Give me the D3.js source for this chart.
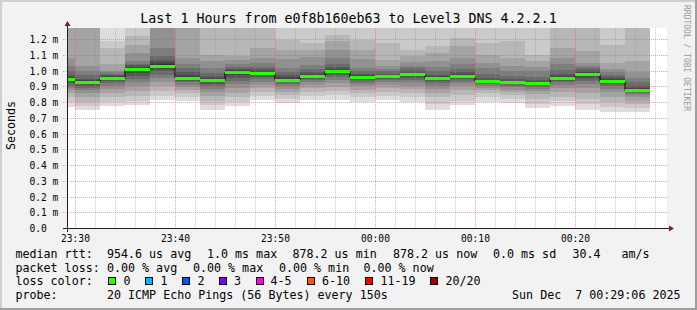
<!DOCTYPE html>
<html><head><meta charset="utf-8">
<script src="https://cdn.jsdelivr.net/npm/d3@7/dist/d3.min.js"></script>
<style>
html,body{margin:0;padding:0;background:#f2f2f2;}
svg{display:block;}
text{font-family:"DejaVu Sans Mono",monospace;}
</style></head><body>
<svg id="chart" width="697" height="310"></svg>
<script>
const INF = Infinity;
const title = "Last 1 Hours from e0f8b160eb63 to Level3 DNS 4.2.2.1";
const yLabel = "Seconds";
const watermark = "RRDTOOL / TOBI OETIKER";
const viewStart = new Date(2025, 11, 6, 23, 29, 12);
const viewEnd = new Date(2025, 11, 7, 0, 29, 12);
const firstBarEnd = new Date(2025, 11, 6, 23, 30, 0);
const stepSeconds = 150;
const yMaxMs = 1.2712;
const yTickValues = [0, 0.1, 0.2, 0.3, 0.4, 0.5, 0.6, 0.7, 0.8, 0.9, 1.0, 1.1, 1.2];

// median rtt per 150 s step (ms)
const medians = [0.949, 0.926, 0.955, 1.008, 1.032, 0.955, 0.938, 0.989, 0.983, 0.943, 0.968, 0.996,
                 0.957, 0.964, 0.976, 0.951, 0.968, 0.932, 0.926, 0.919, 0.955, 0.976, 0.932, 0.878];

// 20 sorted ping rtts per step (ms); INF = above graph maximum
const pings = [
 [0.770,0.800,0.830,0.855,0.875,0.890,0.905,0.920,0.935,0.945, 0.953,0.962,0.975,0.995,1.030,1.080,INF,INF,INF,INF],
 [0.752,0.775,0.800,0.830,0.855,0.875,0.890,0.905,0.915,0.922, 0.930,0.938,0.950,0.970,0.995,1.027,INF,INF,INF,INF],
 [0.773,0.800,0.830,0.860,0.885,0.905,0.920,0.935,0.945,0.952, 0.962,0.968,0.975,0.982,0.990,0.996,1.043,1.144,1.186,INF],
 [0.784,0.810,0.840,0.870,0.900,0.925,0.945,0.965,0.985,1.000, 1.015,1.025,1.035,1.045,1.059,1.112,1.165,1.218,INF,INF],
 [0.816,0.840,0.870,0.900,0.930,0.955,0.975,0.995,1.010,1.025, 1.040,1.052,1.068,1.091,1.144,INF,INF,INF,INF,INF],
 [0.805,0.830,0.855,0.875,0.895,0.910,0.925,0.935,0.945,0.950, 0.960,0.972,0.990,1.015,1.045,1.081,INF,INF,INF,INF],
 [0.752,0.780,0.810,0.840,0.865,0.885,0.900,0.915,0.925,0.933, 0.943,0.953,0.967,0.985,1.015,1.060,1.102,INF,INF,INF],
 [0.773,0.800,0.830,0.860,0.890,0.915,0.935,0.955,0.970,0.984, 0.994,1.002,1.012,1.025,1.045,1.065,1.091,INF,INF,INF],
 [0.816,0.840,0.865,0.890,0.910,0.930,0.945,0.960,0.970,0.978, 0.988,0.996,1.008,1.025,1.050,1.081,1.144,INF,INF,INF],
 [0.795,0.820,0.845,0.865,0.885,0.900,0.915,0.925,0.935,0.941, 0.949,0.958,0.972,0.992,1.020,1.075,1.134,1.197,INF,INF],
 [0.816,0.840,0.865,0.890,0.910,0.925,0.940,0.950,0.958,0.964, 0.972,0.980,0.992,1.008,1.038,1.085,1.134,1.176,INF,INF],
 [0.816,0.845,0.870,0.895,0.920,0.940,0.960,0.975,0.985,0.992, 1.000,1.010,1.025,1.045,1.081,1.130,1.186,1.229,INF,INF],
 [0.801,0.830,0.855,0.880,0.900,0.915,0.930,0.940,0.948,0.953, 0.961,0.970,0.982,0.998,1.020,1.075,1.134,1.197,INF,INF],
 [0.816,0.840,0.865,0.890,0.910,0.925,0.940,0.950,0.955,0.959, 0.966,0.973,0.982,0.996,1.012,1.030,1.070,1.176,INF,INF],
 [0.801,0.830,0.860,0.885,0.905,0.925,0.940,0.955,0.965,0.971, 0.980,0.988,1.000,1.015,1.030,1.055,1.091,1.134,INF,INF],
 [0.752,0.790,0.830,0.860,0.885,0.905,0.920,0.932,0.942,0.947, 0.955,0.963,0.975,0.995,1.025,1.059,1.112,1.155,INF,INF],
 [0.780,0.810,0.845,0.875,0.900,0.920,0.935,0.950,0.958,0.964, 0.972,0.980,0.993,1.012,1.045,1.081,1.155,1.208,INF,INF],
 [0.801,0.830,0.855,0.875,0.890,0.905,0.915,0.922,0.927,0.929, 0.935,0.943,0.956,0.978,1.017,1.050,1.102,1.176,INF,INF],
 [0.795,0.820,0.845,0.865,0.880,0.895,0.905,0.913,0.918,0.921, 0.927,0.935,0.948,0.968,0.996,1.030,1.081,1.186,INF,INF],
 [0.763,0.790,0.820,0.850,0.870,0.885,0.897,0.906,0.912,0.916, 0.922,0.930,0.943,0.962,0.996,1.025,1.059,1.102,INF,INF],
 [0.773,0.805,0.835,0.865,0.890,0.910,0.925,0.937,0.946,0.951, 0.959,0.968,0.982,1.005,1.040,1.081,1.144,INF,INF,INF],
 [0.752,0.785,0.820,0.860,0.890,0.915,0.935,0.950,0.962,0.971, 0.981,0.990,1.002,1.015,1.030,1.049,1.123,INF,INF,INF],
 [0.737,0.770,0.800,0.835,0.865,0.885,0.900,0.913,0.922,0.928, 0.936,0.945,0.958,0.975,0.990,1.010,1.049,1.165,INF,INF],
 [0.737,0.765,0.790,0.810,0.830,0.845,0.858,0.868,0.874,0.876, 0.882,0.892,0.905,0.925,0.953,0.990,1.059,INF,INF,INF]
];

const lossLabels = ["0", "1", "2", "3", "4-5", "6-10", "11-19", "20/20"];
const lossColors = ["#26ff00", "#00b8ff", "#0059ff", "#7e00ff", "#ff00ea", "#ff5500", "#ff0000", "#a10000"];
const legendRtt = ["median rtt:", "954.6 us avg", "1.0 ms max", "878.2 us min", "878.2 us now", "0.0 ms sd", "30.4", "am/s"];
const legendLoss = ["packet loss:", "0.00 % avg", "0.00 % max", "0.00 % min", "0.00 % now"];
const legendProbe = ["probe:", "20 ICMP Echo Pings (56 Bytes) every 150s"];
const stamp = "Sun Dec  7 00:29:06 2025";

// ---------- layout ----------
const W = 697, H = 310, L = 67, R = 667, T = 28, B = 228;
const svg = d3.select("#chart");
svg.append("rect").attr("width", W).attr("height", H).attr("fill", "#f2f2f2");
// shaded border
svg.append("rect").attr("x", 0).attr("y", 0).attr("width", W).attr("height", 2).attr("fill", "#cfcfcf");
svg.append("rect").attr("x", 0).attr("y", 0).attr("width", 2).attr("height", H).attr("fill", "#cfcfcf");
svg.append("rect").attr("x", 0).attr("y", H - 2).attr("width", W).attr("height", 2).attr("fill", "#9e9e9e");
svg.append("rect").attr("x", W - 2).attr("y", 0).attr("width", 2).attr("height", H).attr("fill", "#9e9e9e");

const x = d3.scaleTime().domain([viewStart, viewEnd]).range([L, R]);
const y = d3.scaleLinear().domain([0, yMaxMs]).range([B, T]);

svg.append("rect").attr("x", L).attr("y", T).attr("width", R - L).attr("height", B - T).attr("fill", "#ffffff");

svg.append("defs").append("clipPath").attr("id", "plotclip")
  .append("rect").attr("x", L).attr("y", T).attr("width", R - L).attr("height", B - T);
const g = svg.append("g").attr("clip-path", "url(#plotclip)");

const shade = b => { const v = Math.floor(190 / 10 * (10 - b)) + 50; return d3.rgb(v, v, v).formatHex(); };
const barStart = i => d3.timeSecond.offset(firstBarEnd, (i - 1) * stepSeconds);
const barEnd = i => d3.timeSecond.offset(firstBarEnd, i * stepSeconds);

pings.forEach((p, i) => {
  const x0 = x(barStart(i)), x1 = x(barEnd(i));
  for (let b = 1; b <= 10; b++) {
    const lo = p[b - 1], hi = p[20 - b];
    const yTop = y(Math.min(hi, yMaxMs)), yBot = y(lo);
    g.append("rect").attr("x", x0).attr("width", x1 - x0)
      .attr("y", yTop).attr("height", yBot - yTop)
      .attr("fill", shade(b)).attr("shape-rendering", "crispEdges");
  }
});

// median: black step line + green band
const medPts = medians.map((m, i) => [x(barStart(i)), m]);
medPts.push([x(barEnd(medians.length - 1)), medians[medians.length - 1]]);
g.append("path")
  .attr("d", d3.line().x(d => d[0]).y(d => Math.round(y(d[1])) + 0.5).curve(d3.curveStepAfter)(medPts))
  .attr("fill", "none").attr("stroke", "#000").attr("stroke-width", 1);
medians.forEach((m, i) => {
  const x0 = x(barStart(i)), x1 = x(barEnd(i));
  g.append("rect").attr("x", x0).attr("width", x1 - x0)
    .attr("y", Math.round(y(m)) - 1).attr("height", 3)
    .attr("fill", lossColors[0]).attr("shape-rendering", "crispEdges");
});

// ---------- grid ----------
const grid = svg.append("g");
const minorTimes = d3.timeMinute.every(2).range(viewStart, viewEnd).filter(t => t.getMinutes() % 10 !== 0);
const majorTimes = d3.timeMinute.every(10).range(viewStart, viewEnd);
minorTimes.forEach(t => {
  const xx = Math.round(x(t)) + 0.5;
  grid.append("line").attr("x1", xx).attr("x2", xx).attr("y1", T).attr("y2", B)
    .attr("stroke", "rgba(143,143,143,0.45)").attr("stroke-dasharray", "1,1");
});
majorTimes.forEach(t => {
  const xx = Math.round(x(t)) + 0.5;
  grid.append("line").attr("x1", xx).attr("x2", xx).attr("y1", T).attr("y2", B)
    .attr("stroke", "rgba(222,79,79,0.5)").attr("stroke-dasharray", "1,1");
});
yTickValues.filter(v => v > 0).forEach(v => {
  const yy = Math.round(y(v)) + 0.5;
  grid.append("line").attr("x1", L - 4).attr("x2", R + 2).attr("y1", yy).attr("y2", yy)
    .attr("stroke", "rgba(222,79,79,0.5)").attr("stroke-dasharray", "1,1");
});

// ---------- axes ----------
const ax = svg.append("g");
ax.append("line").attr("x1", L - 4).attr("x2", R + 4).attr("y1", B + 0.5).attr("y2", B + 0.5).attr("stroke", "#1f1f1f");
ax.append("line").attr("x1", L + 0.5).attr("x2", L + 0.5).attr("y1", B + 4).attr("y2", T - 4).attr("stroke", "#1f1f1f");
ax.append("path").attr("d", `M${R + 2},${B - 2.5}L${R + 2},${B + 3.5}L${R + 7},${B + 0.5}Z`).attr("fill", "#801f1f");
ax.append("path").attr("d", `M${L - 2.5},${T - 2}L${L + 3.5},${T - 2}L${L + 0.5},${T - 7}Z`).attr("fill", "#801f1f");

// y tick labels
const yFmt = v => v === 0 ? "0.0" : d3.format(".1f")(v) + " m";
svg.append("g").selectAll("text").data(yTickValues).join("text")
  .attr("x", 29.5).attr("y", v => Math.round(y(v)) + 3.5)
  .attr("font-size", 9.6).attr("fill", "#000").text(yFmt);
// x tick labels
const xFmt = d3.timeFormat("%H:%M");
svg.append("g").selectAll("text").data(majorTimes).join("text")
  .attr("x", t => Math.round(x(t)) + 0.5).attr("y", 241.5)
  .attr("text-anchor", "middle").attr("font-size", 9.6).attr("fill", "#000").text(xFmt);

// title & labels
svg.append("text").attr("x", 348.5).attr("y", 23).attr("text-anchor", "middle")
  .attr("font-size", 13.3).attr("fill", "#000").text(title);
svg.append("text").attr("transform", "translate(14.5,125.5) rotate(-90)").attr("text-anchor", "middle")
  .attr("font-size", 11.67).attr("fill", "#000").text(yLabel);
svg.append("text").attr("transform", "translate(683.5,5) rotate(90)").attr("text-anchor", "start")
  .attr("font-size", 8).attr("fill", "#999999").text(watermark);

// ---------- legend ----------
const lg = svg.append("g").attr("font-size", 11.67).attr("fill", "#000");
const rttX = [15.5, 107, 207, 292.5, 393, 493, 572.5, 621.5];
legendRtt.forEach((s, i) => lg.append("text").attr("x", rttX[i]).attr("y", 258).text(s));
const lossX = [15.5, 107, 193, 279, 363.5];
legendLoss.forEach((s, i) => lg.append("text").attr("x", lossX[i]).attr("y", 271.5).text(s));
lg.append("text").attr("x", 15.5).attr("y", 285).text("loss color:");
const boxX = [108.5, 145.5, 182.5, 219.5, 256.5, 307.5, 365.5, 430.5];
const lblX = [123.5, 160.5, 197.5, 234, 270.5, 322, 380.5, 445.5];
lossLabels.forEach((s, i) => {
  lg.append("rect").attr("x", boxX[i]).attr("y", 277.5).attr("width", 7).attr("height", 7)
    .attr("fill", lossColors[i]).attr("stroke", "#000").attr("stroke-width", 1);
  lg.append("text").attr("x", lblX[i]).attr("y", 285).text(s);
});
lg.append("text").attr("x", 15.5).attr("y", 298.5).text(legendProbe[0]);
lg.append("text").attr("x", 107).attr("y", 298.5).text(legendProbe[1]);
lg.append("text").attr("x", 680.5).attr("y", 298.5).attr("text-anchor", "end")
  .style("white-space", "pre").text(stamp);
</script>
</body></html>
